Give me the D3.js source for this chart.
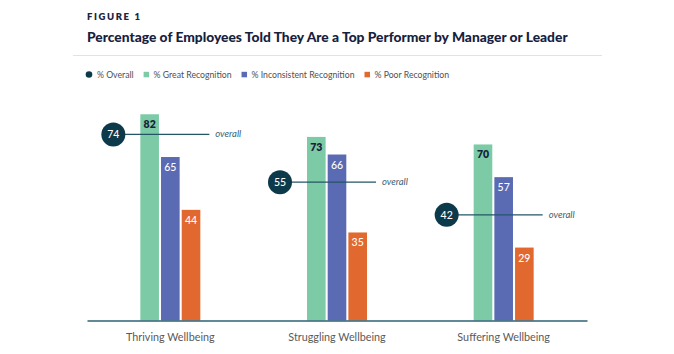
<!DOCTYPE html>
<html>
<head>
<meta charset="utf-8">
<script src="https://cdn.jsdelivr.net/npm/d3@7"></script>
<style>
  body { margin: 0; background: #fff; }
  svg { display: block; font-family: Lato, "Open Sans", sans-serif; }
</style>
</head>
<body>
<svg id="chart" width="674" height="354"></svg>
<script>
// data
const categories = ["Thriving Wellbeing", "Struggling Wellbeing", "Suffering Wellbeing"];
const overall = [74, 55, 42];
const great = [82, 73, 70];
const inconsistent = [65, 66, 57];
const poor = [44, 35, 29];
const seriesNames = ["% Great Recognition", "% Inconsistent Recognition", "% Poor Recognition"];
const seriesColors = ["#7dcba6", "#5a6bb4", "#e1692f"];
const labelColors = ["#16233a", "#ffffff", "#ffffff"];

const svg = d3.select("#chart");
const seriesValues = [great, inconsistent, poor];

// titles
svg.append("text")
  .attr("x", 87).attr("y", 20)
  .attr("font-size", 9.5).attr("font-weight", 800)
  .attr("letter-spacing", 1.6)
  .attr("fill", "#1b2540")
  .text("FIGURE 1");

svg.append("text")
  .attr("x", 87).attr("y", 42)
  .attr("font-size", 13.8).attr("font-weight", 900)
  .attr("fill", "#16213d")
  .text("Percentage of Employees Told They Are a Top Performer by Manager or Leader");

svg.append("line")
  .attr("x1", 73).attr("x2", 602)
  .attr("y1", 55.5).attr("y2", 55.5)
  .attr("stroke", "#e2e2e2").attr("stroke-width", 1);

// legend
let lx = 86;
const legend = svg.append("g").attr("font-size", 8.7).attr("fill", "#505050");
legend.append("circle").attr("cx", lx + 3).attr("cy", 74.5).attr("r", 3.3).attr("fill", "#0d3a4a");
let t = legend.append("text").attr("x", lx + 11).attr("y", 77.6).text("% Overall");
lx = lx + 11 + t.node().getComputedTextLength() + 10;
seriesNames.forEach((name, i) => {
  legend.append("rect").attr("x", lx).attr("y", 71.8).attr("width", 5.5).attr("height", 5.5)
    .attr("fill", seriesColors[i]);
  const tt = legend.append("text").attr("x", lx + 10).attr("y", 77.6).text(name);
  lx = lx + 10 + tt.node().getComputedTextLength() + 10;
});

// scales
const x = d3.scaleBand().domain(categories).range([87, 587]);
const xs = d3.scaleBand().domain(seriesNames).range([-30, 30]).paddingInner(0.1);
const y = d3.scaleLinear().domain([0, 100]).range([320.5, 69]);

const groups = svg.append("g").selectAll("g")
  .data(categories)
  .join("g")
  .attr("transform", d => "translate(" + (x(d) + x.bandwidth() / 2) + ",0)");

groups.each(function(cat, ci) {
  const g = d3.select(this);
  seriesNames.forEach((name, si) => {
    const v = seriesValues[si][ci];
    g.append("rect")
      .attr("x", xs(name))
      .attr("y", y(v))
      .attr("width", xs.bandwidth())
      .attr("height", y(0) - y(v))
      .attr("fill", seriesColors[si]);
    g.append("text")
      .attr("x", xs(name) + xs.bandwidth() / 2)
      .attr("y", y(v) + 14)
      .attr("text-anchor", "middle")
      .attr("font-size", 10.5)
      .attr("font-weight", si === 0 ? 800 : 500)
      .attr("fill", labelColors[si])
      .text(v);
  });

  // overall marker
  const oy = y(overall[ci]);
  g.append("line")
    .attr("x1", -57).attr("x2", 39)
    .attr("y1", oy).attr("y2", oy)
    .attr("stroke", "#245567").attr("stroke-width", 1.3);
  g.append("circle")
    .attr("cx", -57).attr("cy", oy).attr("r", 12)
    .attr("fill", "#0d3a4a");
  g.append("text")
    .attr("x", -57).attr("y", oy + 3.8)
    .attr("text-anchor", "middle")
    .attr("font-size", 10.5).attr("font-weight", 500)
    .attr("fill", "#fff")
    .text(overall[ci]);
  g.append("text")
    .attr("x", 45).attr("y", oy + 3)
    .attr("font-size", 9.5).attr("font-style", "italic")
    .attr("fill", "#3a6274")
    .text("overall");
});

// x axis
const xAxis = svg.append("g")
  .attr("transform", "translate(0," + y(0) + ")")
  .call(d3.axisBottom(x).tickSize(0).tickPadding(13));
xAxis.select(".domain").attr("stroke", "#2c6074").attr("stroke-width", 1.5);
xAxis.selectAll("text")
  .attr("font-family", "Lato, sans-serif")
  .attr("font-size", 10.8)
  .attr("fill", "#5a5a5a");
</script>
</body>
</html>
